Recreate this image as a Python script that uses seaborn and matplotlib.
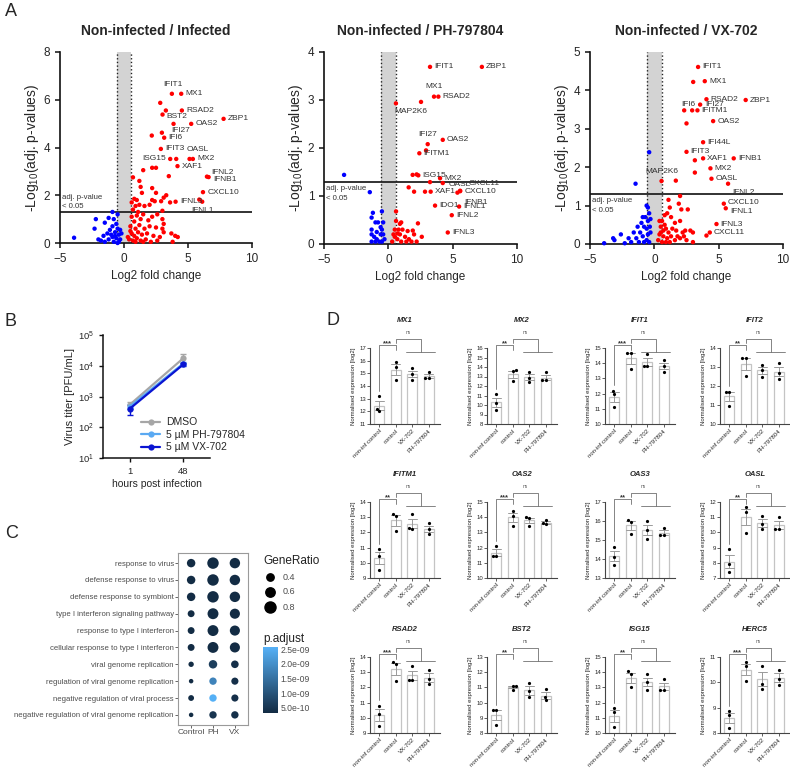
import numpy as np
import pandas as pd
import matplotlib
matplotlib.use("Agg")
import matplotlib.pyplot as plt
import seaborn as sns
from matplotlib.colors import LinearSegmentedColormap, Normalize
from matplotlib.cm import ScalarMappable
from matplotlib.lines import Line2D

sns.set_style("ticks")
plt.rcParams["font.family"] = ["Liberation Sans", "DejaVu Sans"]
plt.rcParams["mathtext.default"] = "regular"

W, H = 790, 768

# ── Panel A: volcano data ─────────────────────────────────────────────────── #
a1_genes = ["IFIT1", "MX1", "RSAD2", "BST2", "OAS2", "ZBP1", "IFI27", "IFI6", "IFIT3",
            "ISG15", "OASL", "MX2", "XAF1", "IFNL2", "IFNB1", "CXCL10", "IFNL3", "IFNL1"]
a1_gx = [3.74, 4.47, 4.52, 3.01, 5.25, 7.78, 3.87, 3.14, 2.88, 3.61, 5.12, 5.38, 4.18, 6.48, 6.61, 6.17, 4.03, 6.11]
a1_gy = [6.25, 6.25, 5.55, 5.38, 4.99, 5.20, 4.99, 4.41, 3.94, 3.52, 3.52, 3.52, 3.22, 2.78, 2.76, 2.13, 1.73, 1.73]
a1_up_x = [3.27, 2.83, 2.96, 2.17, 4.08, 5.88, 2.2, 2.5, 3.5, 0.7, 1.5, 1.2, 1.3, 2.2, 2.5, 1.4, 3.3, 3.1, 2.2, 2.4,
           2.9, 0.8, 1.0, 0.6, 1.2, 0.9, 1.6, 2.0, 3.0, 3.6, 0.7, 1.1, 0.6, 0.8, 1.0, 1.3, 1.5, 1.9, 2.2, 2.6,
           3.0, 3.1, 0.5, 0.9, 1.2, 1.6, 2.0, 2.5, 3.0, 0.6, 0.8, 1.1, 1.4, 1.8, 2.3, 2.8, 3.1, 3.7, 4.0, 0.4,
           0.7, 1.0, 1.3, 1.7, 2.1, 2.6, 3.8, 4.2, 0.5, 0.3, 0.9, 1.5]
a1_up_y = [5.55, 5.87, 4.62, 4.50, 3.52, 1.82, 3.15, 3.15, 2.8, 2.75, 3.05, 2.6, 2.35, 2.3, 2.1, 2.1, 2.0, 1.9, 1.8, 1.75,
           1.75, 1.85, 1.8, 1.7, 1.6, 1.55, 1.55, 1.6, 1.35, 1.7, 1.4, 1.3, 1.1, 0.9, 1.15, 1.0, 1.2, 0.95, 1.1, 1.2,
           1.0, 0.8, 0.7, 0.6, 0.75, 0.6, 0.7, 0.65, 0.6, 0.4, 0.3, 0.45, 0.35, 0.4, 0.3, 0.25, 0.45, 0.4, 0.3, 0.15,
           0.1, 0.2, 0.1, 0.15, 0.05, 0.1, 0.05, 0.25, 0.5, 0.25, 0.05, 0.05]
a1_dn_x = [-3.9, -2.3, -2.2, -1.5, -1.2, -0.9, -0.8, -0.5, -1.6, -1.3, -1.1, -0.9, -0.7, -0.5, -0.4, -0.3,
           -0.6, -0.9, -1.2, -1.5, -0.8, -0.4, -0.2, -1.0, -0.6, -0.3, -1.8, -2.0, -0.5, -0.7]
a1_dn_y = [0.22, 0.6, 1.0, 0.85, 1.05, 1.3, 1.0, 1.2, 0.3, 0.4, 0.55, 0.7, 0.45, 0.6, 0.35, 0.15,
           0.2, 0.25, 0.15, 0.05, 0.05, 0.05, 0.4, 0.35, 0.8, 0.55, 0.1, 0.15, 0.0, 0.3]

a2_genes = ["IFIT1", "ZBP1", "MX1", "RSAD2", "MAP2K6", "IFI27", "OAS2", "IFITM1", "ISG15", "MX2",
            "OASL", "CXCL11", "CXCL10", "IFNB1", "XAF1", "IFNL1", "IDO1", "IFNL2", "IFNL3"]
a2_gx = [3.24, 7.27, 3.55, 3.89, 0.59, 3.06, 4.23, 2.41, 2.33, 4.02, 4.23, 5.58, 5.58, 5.37, 3.29, 5.50, 3.63, 4.93, 4.62]
a2_gy = [3.69, 3.69, 3.07, 3.07, 2.93, 2.08, 2.17, 1.89, 1.43, 1.37, 1.27, 1.11, 1.10, 1.07, 1.09, 0.78, 0.80, 0.60, 0.24]
a2_up_x = [2.54, 2.93, 1.89, 2.2, 3.24, 2.85, 1.58, 2.0, 0.6, 0.6, 1.0, 0.9, 1.5, 1.9, 2.3, 2.6, 0.4, 0.5, 0.7,
           0.9, 1.0, 1.3, 1.6, 1.8, 2.0, 0.3, 0.8, 1.1, 0.5, 1.4, 2.2, 0.7]
a2_up_y = [2.96, 1.95, 1.44, 1.45, 1.29, 1.09, 1.18, 1.09, 0.68, 0.48, 0.45, 0.42, 0.27, 0.28, 0.43, 0.15, 0.2, 0.15, 0.1,
           0.2, 0.05, 0.15, 0.1, 0.05, 0.2, 0.05, 0.3, 0.3, 0.3, 0.05, 0.05, 0.22]
a2_dn_x = [-3.44, -1.44, -1.2, -0.5, -1.3, -0.8, -1.0, -0.4, -0.6, -1.3, -0.9, -0.6, -1.3, -0.4, -0.9,
           -0.5, -1.0, -1.3, -0.3, -0.7, -1.1, -0.5]
a2_dn_y = [1.44, 1.08, 0.65, 0.68, 0.55, 0.45, 0.45, 0.45, 0.35, 0.3, 0.25, 0.2, 0.2, 0.2, 0.1,
           0.05, 0.05, 0.05, 0.1, 0.05, 0.15, 0.3]

a3_genes = ["IFIT1", "MX1", "RSAD2", "ZBP1", "IFI6", "IFI27", "IFITM1", "OAS2", "IFI44L", "IFIT3", "XAF1",
            "IFNB1", "MX2", "MAP2K6", "OASL", "IFNL2", "CXCL10", "IFNL1", "IFNL3", "CXCL11"]
a3_gx = [3.40, 3.92, 4.05, 7.10, 2.32, 3.56, 3.35, 4.57, 3.79, 2.50, 3.79, 6.17, 4.36, 0.56, 4.44, 5.73, 5.40, 5.55, 4.83, 4.31]
a3_gy = [4.61, 4.24, 3.77, 3.75, 3.48, 3.63, 3.48, 3.20, 2.65, 2.40, 2.23, 2.23, 1.97, 1.64, 1.70, 1.57, 1.05, 0.93, 0.52, 0.30]
a3_up_x = [2.94, 2.5, 3.02, 3.15, 3.15, 1.67, 4.05, 2.0, 1.1, 1.9, 2.1, 2.6, 1.2, 0.6, 0.8, 1.0, 1.3, 1.6, 2.0,
           2.4, 2.8, 3.0, 0.5, 0.9, 1.4, 1.7, 2.2, 0.4, 0.7, 1.0, 1.3, 1.6, 2.0, 2.5, 0.3, 0.6, 0.9, 1.2,
           0.5, 0.8, 1.1, 0.4, 0.7, 2.3, 1.8, 3.0]
a3_up_y = [3.48, 3.14, 4.22, 2.18, 1.86, 1.65, 0.22, 1.25, 1.15, 1.05, 0.9, 0.9, 0.95, 0.6, 0.75, 0.8, 0.7, 0.55, 0.6,
           0.35, 0.35, 0.3, 0.45, 0.4, 0.4, 0.35, 0.3, 0.25, 0.2, 0.15, 0.2, 0.1, 0.15, 0.1, 0.1, 0.05, 0.05, 0.05,
           0.3, 0.5, 0.3, 0.6, 0.35, 0.2, 0.2, 0.05]
a3_dn_x = [-0.4, -1.46, -0.6, -0.5, -0.4, -0.7, -0.9, -0.5, -1.0, -0.3, -1.3, -0.8, -0.6, -1.6, -1.1, -0.5,
           -0.3, -2.0, -1.4, -0.9, -0.6, -0.4, -1.8, -3.2, -3.1, -3.9, -2.3, -1.2, -0.8, -0.35, -2.6]
a3_dn_y = [2.39, 1.57, 1.0, 0.95, 0.8, 0.7, 0.7, 0.6, 0.55, 0.65, 0.45, 0.45, 0.4, 0.3, 0.3, 0.25,
           0.3, 0.15, 0.15, 0.2, 0.1, 0.05, 0.05, 0.15, 0.1, 0.02, 0.02, 0.05, 0.05, 0.45, 0.25]

# label offsets (points, ha) where not the default "right of the dot"
a1_offsets = {"IFIT1": (1, 7, "center"), "ISG15": (-3, 0, "right"), "OASL": (6, 7, "center"),
              "IFI27": (5, -5, "center"), "IFNL2": (3, 3, "left"), "IFNB1": (3, -2, "left"),
              "IFNL1": (0, -6, "center"), "BST2": (3, -1.5, "left")}
a2_offsets = {"MX1": (0, 7, "center"), "MAP2K6": (-1, -6, "left"), "IFI27": (0, 7, "center"),
              "CXCL11": (6, 5, "left"), "IFNB1": (5, -7, "left"), "OASL": (4, -1, "left")}
a3_offsets = {"IFI6": (-2, 4, "left"), "IFI27": (4, 0, "left"), "MAP2K6": (0, 7, "center"),
              "IFNL2": (3, -6, "left"), "IFNL1": (3, -2, "left"), "CXCL10": (3, 1, "left")}

# ── Panel B: virus titer ──────────────────────────────────────────────────── #
hpi = ["1", "48"]
treatments = ["DMSO", "5 µM PH-797804", "5 µM VX-702"]
titer_dmso = [540, 17500]
titer_ph = [470, 11800]
titer_vx = [400, 11000]
lo_dmso, hi_dmso = [400, 12500], [650, 25000]
lo_ph, hi_ph = [380, 10500], [560, 13500]
lo_vx, hi_vx = [250, 10000], [520, 12000]

# ── Panel C: GO enrichment ────────────────────────────────────────────────── #
go_terms = ["response to virus", "defense response to virus", "defense response to symbiont",
            "type I interferon signaling pathway", "response to type I interferon",
            "cellular response to type I interferon", "viral genome replication",
            "regulation of viral genome replication", "negative regulation of viral process",
            "negative regulation of viral genome replication"]
go_groups = ["Control", "PH", "VX"]
ratio_ctrl = [0.50, 0.50, 0.50, 0.36, 0.36, 0.36, 0.25, 0.20, 0.28, 0.20]
ratio_ph = [0.85, 0.85, 0.85, 0.78, 0.78, 0.78, 0.50, 0.40, 0.40, 0.40]
ratio_vx = [0.72, 0.72, 0.72, 0.68, 0.68, 0.68, 0.42, 0.38, 0.38, 0.40]
padj_ctrl = [3.4e-10] * 10
padj_ph = [3.4e-10, 3.4e-10, 3.4e-10, 3.4e-10, 3.4e-10, 3.4e-10, 6.5e-10, 1.8e-9, 2.55e-9, 5.0e-10]
padj_vx = [3.4e-10, 3.4e-10, 3.4e-10, 3.4e-10, 3.4e-10, 3.4e-10, 4.0e-10, 4.0e-10, 4.0e-10, 4.2e-10]

# ── Panel D: normalised expression ────────────────────────────────────────── #
conds = ["non-inf control", "control", "VX-702", "PH-797804"]
genes_d = ["MX1", "MX2", "IFIT1", "IFIT2", "IFITM1", "OAS2", "OAS3", "OASL", "RSAD2", "BST2", "ISG15", "HERC5"]
mx1 = [[12.0, 13.2, 12.15], [15.9, 15.5, 14.5], [15.4, 14.95, 14.5], [14.65, 15.1, 14.65]]
mx2 = [[11.15, 10.2, 9.5], [13.65, 13.6, 12.5], [13.5, 12.85, 12.4], [13.45, 12.6, 12.6]]
ifit1 = [[12.2, 12.0, 11.1], [14.7, 14.65, 13.6], [14.6, 13.8, 13.8], [14.2, 13.8, 13.45]]
ifit2 = [[11.7, 11.7, 10.95], [13.45, 13.45, 12.55], [13.1, 12.85, 12.5], [13.2, 12.7, 12.35]]
ifitm1 = [[10.9, 10.45, 9.55], [13.2, 13.1, 12.1], [13.2, 12.3, 12.25], [12.6, 12.25, 11.9]]
oas2 = [[12.1, 11.45, 11.45], [14.4, 14.1, 13.45], [14.0, 13.4, 13.95], [13.8, 13.55, 13.6]]
oas3 = [[14.65, 14.1, 13.7], [16.05, 15.95, 15.3], [16.0, 15.55, 15.05], [15.25, 15.65, 15.25]]
oasl = [[8.9, 7.95, 7.4], [11.7, 11.35, 9.95], [11.1, 10.55, 10.2], [10.25, 11.0, 10.25]]
rsad2 = [[10.8, 10.25, 9.45], [13.65, 13.55, 12.4], [13.4, 12.5, 12.5], [13.15, 12.55, 12.25]]
bst2 = [[9.5, 9.5, 8.5], [11.1, 11.1, 10.85], [11.3, 10.75, 10.35], [10.9, 10.35, 10.15]]
isg15 = [[11.65, 11.35, 10.4], [14.05, 13.9, 13.0], [13.85, 13.35, 12.85], [12.85, 13.55, 12.85]]
herc5 = [[8.85, 8.7, 8.2], [10.8, 10.65, 10.05], [10.65, 9.95, 9.75], [10.5, 10.15, 9.9]]
sig_d = ["***", "**", "***", "**", "**", "***", "**", "**", "***", "**", "**", "***"]
ylim_d = [(11, 17), (8, 16), (10, 15), (10, 14), (9, 14), (10, 15), (13, 17), (7, 12),
          (9, 14), (8, 13), (10, 15), (8, 11)]


def add_ax(fig, left, top, w, h):
    return fig.add_axes([left / W, 1 - (top + h) / H, w / W, h / H])


def volcano(ax, title, ymax, ystep, genes, gx, gy, up_x, up_y, dn_x, dn_y, offsets, note_above):
    df = pd.DataFrame({
        "lfc": list(up_x) + list(gx) + list(dn_x),
        "p": list(up_y) + list(gy) + list(dn_y),
        "dir": ["up"] * (len(up_x) + len(gx)) + ["down"] * len(dn_x),
    })
    ax.axvspan(-0.58, 0.58, color="#d3d3d3", lw=0, zorder=0)
    for v in (-0.58, 0.58):
        ax.axvline(v, color="#222222", ls=":", lw=1.0, zorder=1)
    sns.scatterplot(data=df, x="lfc", y="p", hue="dir", palette={"up": "#ff0000", "down": "#0000ff"},
                    s=10, linewidth=0, legend=False, ax=ax, zorder=3, clip_on=False)
    ax.axhline(1.3, color="#222222", lw=1.3, zorder=2)
    for g, x, y in zip(genes, gx, gy):
        dx, dy, ha = offsets.get(g, (3, 0, "left"))
        ax.annotate(g, (x, y), xytext=(dx, dy), textcoords="offset points", ha=ha, va="center",
                    fontsize=6.0, color="#333333", zorder=4)
    if note_above:
        ax.text(-4.85, 1.38, "adj. p-value\n< 0.05", fontsize=5.6, color="#333333", va="bottom", linespacing=1.5)
    else:
        ax.text(-4.85, 1.22, "adj. p-value\n< 0.05", fontsize=5.6, color="#333333", va="top", linespacing=1.5)
    ax.set_xlim(-5, 10)
    ax.set_ylim(0, ymax)
    ax.set_xticks([-5, 0, 5, 10])
    ax.set_yticks(np.arange(0, ymax + 0.01, ystep))
    ax.set_xlabel("Log2 fold change", fontsize=8.5, labelpad=4)
    ax.set_ylabel("-Log$_{10}$(adj. p-values)", fontsize=10, labelpad=2)
    ax.text(0.5, 1.11, title, transform=ax.transAxes, ha="center", va="center",
            fontsize=10, fontweight="bold")
    sns.despine(ax=ax)
    for s in ("left", "bottom"):
        ax.spines[s].set_linewidth(1.2)
        ax.spines[s].set_color("#111111")
    ax.tick_params(labelsize=8.5, width=1.1, length=3.5, color="#111111")


def main():
    fig = plt.figure(figsize=(W / 100, H / 100), dpi=100)

    # ── A ─────────────────────────────────────────────────────────────────── #
    ax1 = add_ax(fig, 60, 52, 192, 191)
    volcano(ax1, "Non-infected / Infected", 8, 2, a1_genes, a1_gx, a1_gy,
            a1_up_x, a1_up_y, a1_dn_x, a1_dn_y, a1_offsets, True)
    ax2 = add_ax(fig, 324, 52, 193, 192)
    volcano(ax2, "Non-infected / PH-797804", 4, 1, a2_genes, a2_gx, a2_gy,
            a2_up_x, a2_up_y, a2_dn_x, a2_dn_y, a2_offsets, False)
    ax3 = add_ax(fig, 590, 52, 193, 192)
    volcano(ax3, "Non-infected / VX-702", 5, 1, a3_genes, a3_gx, a3_gy,
            a3_up_x, a3_up_y, a3_dn_x, a3_dn_y, a3_offsets, False)

    # ── B ─────────────────────────────────────────────────────────────────── #
    axb = add_ax(fig, 103, 335, 107, 123)
    b_df = pd.DataFrame({
        "hpi": hpi * 3,
        "pos": [0, 1] * 3,
        "titer": titer_dmso + titer_ph + titer_vx,
        "lo": lo_dmso + lo_ph + lo_vx,
        "hi": hi_dmso + hi_ph + hi_vx,
        "treatment": [t for t in treatments for _ in hpi],
    })
    b_pal = {"DMSO": "#a6a6a6", "5 µM PH-797804": "#5aa9f2", "5 µM VX-702": "#0a14d2"}
    for t in treatments:
        sub = b_df[b_df.treatment == t]
        axb.errorbar(sub.pos, sub.titer, yerr=[sub.titer - sub.lo, sub.hi - sub.titer],
                     fmt="none", ecolor=b_pal[t], elinewidth=1.0, capsize=2.5, capthick=1.0, zorder=2)
    sns.lineplot(data=b_df, x="pos", y="titer", hue="treatment", palette=b_pal, marker="o",
                 markersize=4.5, markeredgewidth=0, linewidth=1.6, ax=axb, legend=False, zorder=3)
    axb.set_yscale("log")
    axb.set_ylim(10, 1e5)
    axb.set_xlim(-0.5, 1.5)
    axb.set_xticks([0, 1])
    axb.set_xticklabels(hpi)
    axb.minorticks_off()
    axb.set_yticks([1e1, 1e2, 1e3, 1e4, 1e5])
    axb.set_xlabel("hours post infection", fontsize=7.5, labelpad=2)
    axb.set_ylabel("Virus titer [PFU/mL]", fontsize=8, labelpad=2)
    sns.despine(ax=axb)
    for s in ("left", "bottom"):
        axb.spines[s].set_linewidth(1.1)
        axb.spines[s].set_color("#111111")
    axb.tick_params(labelsize=6.8, width=1.0, length=3, color="#111111")
    handles = [Line2D([], [], color=b_pal[t], marker="o", markersize=4.5, lw=1.6, markeredgewidth=0)
               for t in treatments]
    fig.legend(handles, treatments, loc="upper left", bbox_to_anchor=(136 / W, 1 - 412 / H),
               frameon=False, fontsize=7.5, handlelength=1.8, handletextpad=0.6, labelspacing=0.25,
               borderpad=0)

    # ── C ─────────────────────────────────────────────────────────────────── #
    axc = add_ax(fig, 178, 553, 70, 172)
    c_df = pd.DataFrame({
        "term": go_terms * 3,
        "group": [g for g in go_groups for _ in go_terms],
        "GeneRatio": ratio_ctrl + ratio_ph + ratio_vx,
        "p.adjust": padj_ctrl + padj_ph + padj_vx,
    })
    cmap = LinearSegmentedColormap.from_list("gg", ["#132B43", "#56B1F7"])
    pnorm = Normalize(3.3e-10, 2.57e-9)
    size_norm = (0.2, 0.85)
    size_range = (10.5, 68)
    sns.scatterplot(data=c_df, x="group", y="term", size="GeneRatio", sizes=size_range,
                    size_norm=size_norm, hue="p.adjust", palette=cmap, hue_norm=pnorm,
                    linewidth=0, legend=False, ax=axc)
    axc.set_xlim(-0.6, 2.6)
    axc.set_ylim(len(go_terms) - 0.4, -0.6)
    axc.set_xlabel("")
    axc.set_ylabel("")
    for s in axc.spines.values():
        s.set_color("#9a9a9a")
        s.set_linewidth(0.8)
    axc.tick_params(labelsize=5.6, labelcolor="#4d4d4d", color="#4d4d4d", length=2, width=0.6, pad=1)
    axc.tick_params(axis="x", labelsize=6.0)

    def size_of(r):
        f = (r - size_norm[0]) / (size_norm[1] - size_norm[0])
        return size_range[0] + f * (size_range[1] - size_range[0])

    fig.text(263 / W, 1 - 561 / H, "GeneRatio", fontsize=8.5, va="center", color="#222222")
    for i, r in enumerate([0.4, 0.6, 0.8]):
        yy = 577 + 15 * i
        fig.lines.append(Line2D([270 / W], [1 - yy / H], transform=fig.transFigure, marker="o",
                                color="black", markersize=np.sqrt(size_of(r)), lw=0))
        fig.text(283 / W, 1 - yy / H, f"{r:.1f}", fontsize=6.5, va="center", color="#4d4d4d")
    fig.text(263 / W, 1 - 639 / H, "p.adjust", fontsize=8.5, va="center", color="#222222")
    cax = add_ax(fig, 263, 647, 15, 66)
    cb = fig.colorbar(ScalarMappable(norm=pnorm, cmap=cmap), cax=cax)
    cb.outline.set_visible(False)
    cb.set_ticks([5e-10, 1e-9, 1.5e-9, 2e-9, 2.5e-9])
    cb.set_ticklabels(["5.0e-10", "1.0e-09", "1.5e-09", "2.0e-09", "2.5e-09"])
    cax.tick_params(labelsize=6.2, labelcolor="#4d4d4d", length=3, width=0.6, color="white",
                    direction="in", pad=2)

    # ── D ─────────────────────────────────────────────────────────────────── #
    d_vals = [mx1, mx2, ifit1, ifit2, ifitm1, oas2, oas3, oasl, rsad2, bst2, isg15, herc5]
    col_left = [370, 487, 605, 720]
    row_top = [348, 502, 657]
    for k, (gene, vals) in enumerate(zip(genes_d, d_vals)):
        r, c = divmod(k, 4)
        ax = add_ax(fig, col_left[c], row_top[r], 70, 76)
        d_df = pd.DataFrame({"cond": [cd for cd, v in zip(conds, vals) for _ in v],
                             "val": [x for v in vals for x in v]})
        lo, hi = ylim_d[k]
        sns.barplot(data=d_df, x="cond", y="val", order=conds, errorbar="se", capsize=0.55,
                    color="white", edgecolor="#c4c4c4", linewidth=0.9, width=0.6,
                    err_kws={"color": "#9a9a9a", "linewidth": 0.7}, ax=ax)
        sns.swarmplot(data=d_df, x="cond", y="val", order=conds, color="black", size=2.3, ax=ax, zorder=4)
        ax.set_ylim(lo, hi)
        ax.set_xlim(-0.56, 3.68)
        ax.set_yticks(np.arange(lo, hi + 0.01, 1))
        ax.set_xlabel("")
        ax.set_ylabel("Normalised expression [log2]", fontsize=4.3, labelpad=2, color="#222222")
        ax.set_xticks(range(4))
        ax.set_xticklabels(conds, rotation=45, ha="right", rotation_mode="anchor", fontsize=4.3)
        ax.tick_params(labelsize=4.3, length=2, width=0.6, pad=1, color="#444444")
        sns.despine(ax=ax)
        for s in ("left", "bottom"):
            ax.spines[s].set_linewidth(0.8)
            ax.spines[s].set_color("#444444")
        ax.text(0.5, 1.36, gene, transform=ax.transAxes, ha="center", va="center",
                fontsize=5.5, fontweight="bold", fontstyle="italic")
        # significance brackets
        tr = ax.get_xaxis_transform()
        kw = dict(color="#707070", lw=0.6, transform=tr, clip_on=False)
        leg0 = (max(vals[0]) - lo) / (hi - lo) + 0.07
        ax.plot([0, 0, 1, 1], [leg0, 1.04, 1.04, 0.97], **kw)
        ax.text(0.5, 1.06, sig_d[k], transform=tr, ha="center", va="center", fontsize=5.5,
                fontweight="bold", color="#333333")
        ax.plot([1, 1, 2.55, 2.55], [1.06, 1.12, 1.12, 0.95], **kw)
        ax.plot([1.65, 3.4], [0.95, 0.95], **kw)
        ax.text(1.78, 1.2, "ns", transform=tr, ha="center", va="center", fontsize=3.5, color="#555555")

    # panel letters
    fig.text(5 / W, 1 - 12 / H, "A", fontsize=13, va="center")
    fig.text(5 / W, 1 - 322 / H, "B", fontsize=13, va="center")
    fig.text(5 / W, 1 - 533 / H, "C", fontsize=13, va="center")
    fig.text(327 / W, 1 - 320 / H, "D", fontsize=13, va="center")

    fig.savefig("out.png", dpi=100, facecolor="white")
    plt.close(fig)


if __name__ == "__main__":
    main()
